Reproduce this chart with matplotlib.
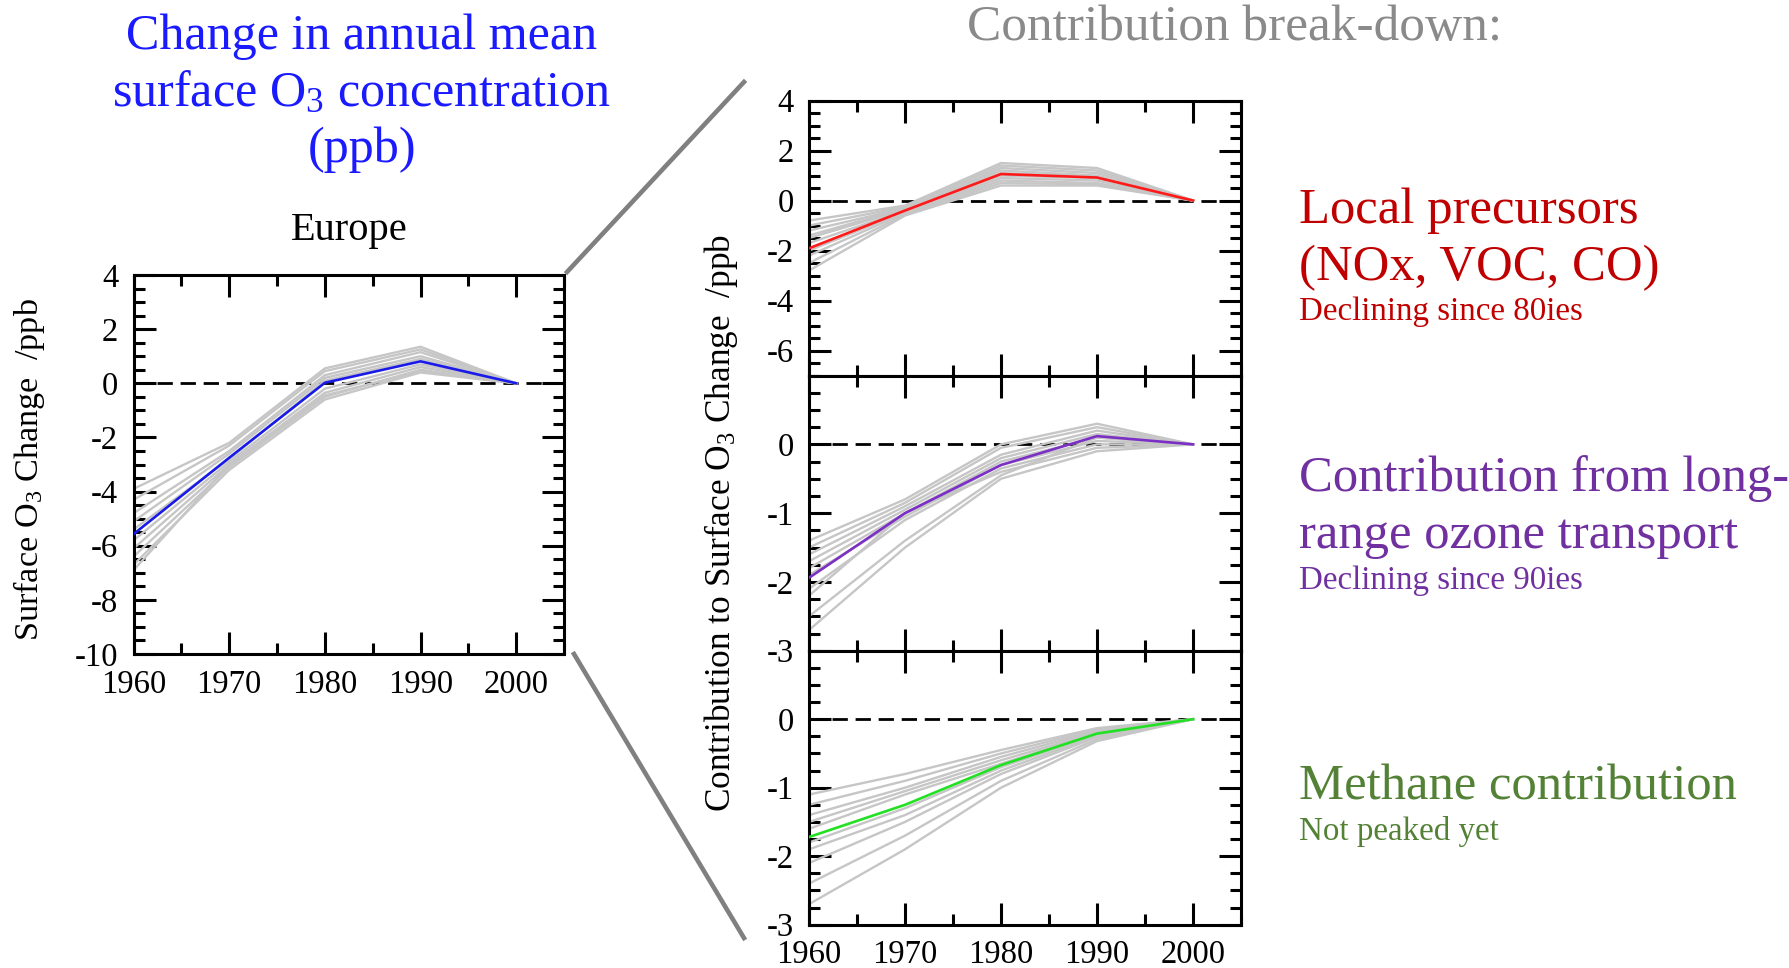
import matplotlib
matplotlib.use("Agg")
import matplotlib.pyplot as plt
from matplotlib.ticker import MultipleLocator, FixedLocator
from matplotlib.lines import Line2D

plt.rcParams['axes.unicode_minus'] = False
plt.rcParams['mathtext.fontset'] = 'custom'
plt.rcParams['mathtext.rm'] = 'Liberation Serif'
plt.rcParams['mathtext.it'] = 'Liberation Serif:italic'

# ---------------- data ----------------
years = [1960, 1970, 1980, 1990, 2000]

europe_mean = [-5.57, -2.75, 0.02, 0.81, 0.0]
europe_models = [
    [-3.9, -2.2, 0.55, 1.35, 0.0],
    [-4.3, -2.3, 0.45, 1.25, 0.0],
    [-4.8, -2.5, 0.30, 1.15, 0.0],
    [-5.1, -2.6, 0.20, 1.00, 0.0],
    [-5.4, -2.8, 0.10, 0.90, 0.0],
    [-5.8, -2.9, -0.20, 0.70, 0.0],
    [-6.1, -3.0, -0.35, 0.60, 0.0],
    [-6.4, -3.1, -0.50, 0.50, 0.0],
    [-6.7, -3.2, -0.60, 0.40, 0.0],
    [-6.9, -3.0, -0.45, 0.45, 0.0],
]

local_mean = [-1.91, -0.40, 1.06, 0.92, 0.0]
local_models = [
    [-0.8, -0.20, 1.50, 1.30, 0.0],
    [-1.0, -0.25, 1.40, 1.20, 0.0],
    [-1.2, -0.30, 1.30, 1.10, 0.0],
    [-1.4, -0.30, 1.20, 1.00, 0.0],
    [-1.5, -0.35, 1.10, 0.95, 0.0],
    [-1.7, -0.40, 1.00, 0.90, 0.0],
    [-2.0, -0.45, 0.90, 0.80, 0.0],
    [-2.2, -0.50, 0.80, 0.70, 0.0],
    [-2.5, -0.55, 0.70, 0.65, 0.0],
    [-2.8, -0.60, 0.60, 0.60, 0.0],
]

transport_mean = [-1.94, -1.00, -0.30, 0.12, 0.0]
transport_models = [
    [-1.40, -0.80, 0.00, 0.30, 0.0],
    [-1.50, -0.85, -0.05, 0.25, 0.0],
    [-1.60, -0.90, -0.15, 0.20, 0.0],
    [-1.70, -0.95, -0.20, 0.15, 0.0],
    [-1.80, -1.00, -0.25, 0.10, 0.0],
    [-1.90, -1.05, -0.30, 0.05, 0.0],
    [-2.10, -1.10, -0.35, 0.00, 0.0],
    [-2.20, -1.00, -0.40, -0.05, 0.0],
    [-2.50, -1.40, -0.45, 0.10, 0.0],
    [-2.70, -1.50, -0.50, -0.10, 0.0],
]

methane_mean = [-1.72, -1.25, -0.67, -0.21, 0.0]
methane_models = [
    [-1.10, -0.80, -0.45, -0.13, 0.0],
    [-1.25, -0.90, -0.50, -0.15, 0.0],
    [-1.40, -1.00, -0.55, -0.17, 0.0],
    [-1.50, -1.05, -0.60, -0.19, 0.0],
    [-1.60, -1.10, -0.65, -0.20, 0.0],
    [-1.80, -1.30, -0.70, -0.22, 0.0],
    [-1.90, -1.40, -0.75, -0.24, 0.0],
    [-2.10, -1.50, -0.80, -0.26, 0.0],
    [-2.40, -1.70, -0.90, -0.29, 0.0],
    [-2.70, -1.90, -1.00, -0.32, 0.0],
]

title_lines = ["Change in annual mean", "surface O$_3$ concentration", "(ppb)"]
break_title = "Contribution break-down:"
region_name = "Europe"
left_ylabel = "Surface O$_3$ Change  /ppb"
right_ylabel = "Contribution to Surface O$_3$ Change  /ppb"
year_ticks = [1960, 1970, 1980, 1990, 2000]

# ---------------- styling ----------------
W, H = 1790, 968
fig = plt.figure(figsize=(W / 100, H / 100), dpi=100)
TICKFONT = 'Liberation Serif'
SLIDEFONT = 'Liberation Serif'
GRAY = '#c6c6c6'
LW = 1.7
TICKSIZE = 23.5


def px_rect(x0, y0, x1, y1):
    return [x0 / W, 1 - y1 / H, (x1 - x0) / W, (y1 - y0) / H]


def style_axes(ax, ymin, ymax, major, minor, xlabels=True, yticks=None):
    ax.set_xlim(1960, 2005)
    ax.set_ylim(ymin, ymax)
    ax.xaxis.set_major_locator(FixedLocator(year_ticks))
    ax.xaxis.set_minor_locator(MultipleLocator(5))
    if yticks is None:
        ax.yaxis.set_major_locator(MultipleLocator(major))
    else:
        ax.yaxis.set_major_locator(FixedLocator(yticks))
    ax.yaxis.set_minor_locator(MultipleLocator(minor))
    ax.tick_params(which='both', direction='in', top=True, right=True,
                   width=2.2, colors='black')
    ax.tick_params(which='major', length=16, pad=11, labelsize=TICKSIZE)
    ax.tick_params(which='minor', length=8)
    ax.set_xticklabels([str(y) for y in year_ticks])
    if not xlabels:
        ax.tick_params(axis='x', labelbottom=False)
    for sp in ax.spines.values():
        sp.set_linewidth(2.2)
    ax.axhline(0, color='black', lw=2.0, linestyle=(0, (5.5, 2.8)), zorder=1)
    for lab in ax.get_yticklabels() + ax.get_xticklabels():
        lab.set_fontfamily(TICKFONT)
        lab.set_fontsize(TICKSIZE)


def draw_panel(ax, models, mean, color):
    for m in models:
        ax.plot(years, m, color=GRAY, lw=LW, zorder=2, solid_joinstyle='round')
    ax.plot(years, mean, color=color, lw=LW + 0.2, zorder=3)


# left Europe panel
axL = fig.add_axes(px_rect(133.6, 275, 564, 654))
draw_panel(axL, europe_models, europe_mean, '#1a1ae8')
style_axes(axL, -10, 4, 2, 0.5)

# right panels
axT = fig.add_axes(px_rect(809, 100.5, 1241, 375.6))
draw_panel(axT, local_models, local_mean, '#ff1a1a')
style_axes(axT, -7, 4, 2, 0.5, xlabels=False, yticks=[-6, -4, -2, 0, 2, 4])

axM = fig.add_axes(px_rect(809, 375.6, 1241, 650.7))
draw_panel(axM, transport_models, transport_mean, '#7b2fc4')
style_axes(axM, -3, 1, 1, 0.25, xlabels=False, yticks=[-3, -2, -1, 0])

axB = fig.add_axes(px_rect(809, 650.7, 1241, 924.7))
draw_panel(axB, methane_models, methane_mean, '#22e022')
style_axes(axB, -3, 1, 1, 0.25, xlabels=True, yticks=[-3, -2, -1, 0])

# ---------------- texts ----------------
def fx(x):
    return x / W


def fy(y):
    return 1 - y / H


renderer = fig.canvas.get_renderer()


def fit(t, target, rotated=False):
    bb = t.get_window_extent(renderer)
    cur = bb.height if rotated else bb.width
    t.set_fontsize(t.get_fontsize() * target / cur)
    return t.get_fontsize()


# blue title
blue = '#1a1aff'
tb = [fig.text(fx(362), fy(yb), s, color=blue, ha='center', va='baseline',
               fontfamily=SLIDEFONT, fontsize=30)
      for s, yb in zip(title_lines, [49, 106, 162])]
sz = fit(tb[0], 473)
for t in tb[1:]:
    t.set_fontsize(sz)

tg = fig.text(fx(1235), fy(40), break_title, color='#8a8a8a', ha='center', va='baseline',
              fontfamily=SLIDEFONT, fontsize=30)
fit(tg, 535)

te = fig.text(fx(349), fy(240), region_name, color='black', ha='center', va='baseline',
              fontfamily=TICKFONT, fontsize=28)
fit(te, 117)

yl1 = fig.text(fx(29), fy(470), left_ylabel, rotation=90, ha='center', va='center',
               fontfamily=TICKFONT, fontsize=25)
fit(yl1, 343, rotated=True)
yl2 = fig.text(fx(721), fy(523), right_ylabel, rotation=90, ha='center', va='center',
               fontfamily=TICKFONT, fontsize=25)
fit(yl2, 579, rotated=True)

# right annotations
red, purple, green = '#c00000', '#7030a0', '#538135'
big = [("Local precursors", 223, red), ("(NOx, VOC, CO)", 280, red),
       ("Contribution from long-", 491, purple), ("range ozone transport", 548, purple),
       ("Methane contribution", 799, green)]
small = [("Declining since 80ies", 320, red), ("Declining since 90ies", 589, purple),
         ("Not peaked yet", 840, green)]
bigt = [fig.text(fx(1299), fy(yb), s, color=c, ha='left', va='baseline',
                 fontfamily=SLIDEFONT, fontsize=28) for s, yb, c in big]
sz = fit(bigt[0], 339)
for t in bigt[1:]:
    t.set_fontsize(sz)
smallt = [fig.text(fx(1299), fy(yb), s, color=c, ha='left', va='baseline',
                   fontfamily=SLIDEFONT, fontsize=17) for s, yb, c in small]
sz = fit(smallt[0], 285)
for t in smallt[1:]:
    t.set_fontsize(sz)

# connector lines
conn = '#808080'
fig.add_artist(Line2D([fx(567), fx(744)], [fy(272), fy(82)], color=conn, lw=3.3,
                      transform=fig.transFigure))
fig.add_artist(Line2D([fx(574), fx(744)], [fy(654), fy(938)], color=conn, lw=3.3,
                      transform=fig.transFigure))

fig.savefig("out.png", dpi=100)
